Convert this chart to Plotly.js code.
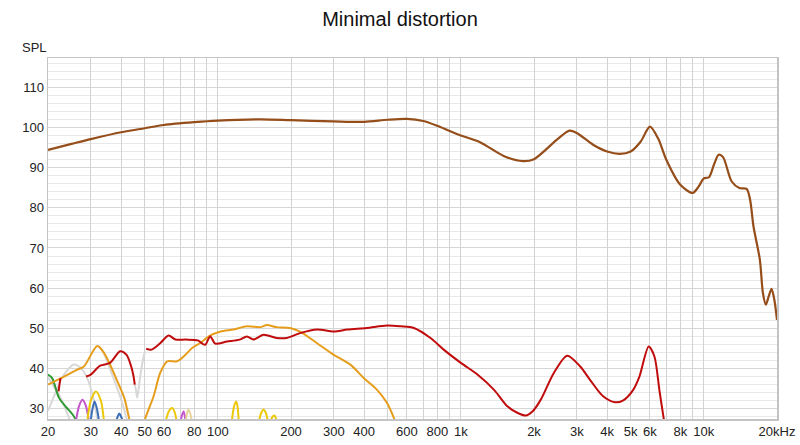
<!DOCTYPE html>
<html>
<head>
<meta charset="utf-8">
<script src="https://cdn.plot.ly/plotly-3.0.1.min.js"></script>
<style>
  html, body { margin: 0; padding: 0; background: #fff; }
  #chart { width: 800px; height: 445px; }
</style>
</head>
<body>
<div id="chart"></div>
<script>
// fundamental
const fundFreq = [20, 25, 30, 40, 50, 60, 80, 100, 150, 200, 300, 400, 500, 600, 700, 800, 900, 1000, 1200, 1500, 1800, 2000, 2500, 2800, 3000, 3500, 4000, 4500, 5000, 5500, 6000, 6500, 7000, 8000, 9000, 9500, 10000, 10500, 11000, 11500, 12000, 13000, 14000, 15000, 15500, 16000, 17000, 17500, 18000, 18500, 19000, 19500, 20000];
const fundSpl = [94.4, 95.9, 97.1, 98.8, 99.8, 100.6, 101.3, 101.7, 102.0, 101.8, 101.5, 101.4, 101.9, 102.1, 101.6, 100.4, 99.1, 98.0, 96.3, 92.9, 91.6, 92.1, 97.1, 99.2, 98.6, 95.7, 94.0, 93.4, 94.0, 96.5, 100.2, 97.1, 92.0, 85.7, 83.7, 85.2, 87.3, 87.6, 90.7, 93.2, 92.6, 86.6, 84.9, 84.7, 82.0, 75.4, 67.1, 58.8, 55.9, 58.0, 59.8, 57.1, 52.1];

// 2nd harmonic (red), null = gap
const h2Freq = [22.1, 22.3, 22.5, 25, 28.7, 30, 32.8, 36.0, 39.6, 42.1, 44.0, 45.0, 45.5, 48, 50.7, 53.4, 57.9, 62.7, 67, 74, 82.7, 88.5, 93, 97.6, 109, 123, 131.6, 140, 154, 174.6, 192, 218, 256, 300, 341, 410, 497, 566, 641, 750, 850, 1000, 1170, 1370, 1554, 1707, 1850, 1970, 2130, 2414, 2740, 3100, 3400, 3850, 4310, 4660, 5120, 5430, 5930, 6260, 6560, 6830, 7000];
const h2Spl = [34.3, 36.0, 37.6, null, 38.0, 38.5, 40.7, 41.4, 44.3, 43.4, 40.5, 38.0, 36.0, null, 44.9, 44.7, 46.3, 48.2, 47.2, 47.2, 47.0, 45.9, 48.0, 46.2, 46.7, 47.2, 48.0, 47.2, 48.4, 47.6, 47.6, 48.8, 49.7, 49.2, 49.7, 50.1, 50.7, 50.5, 50.1, 47.6, 44.7, 41.4, 38.5, 34.7, 30.6, 29.0, 28.3, 29.3, 32.2, 38.9, 43.2, 40.5, 37.2, 33.1, 31.6, 32.1, 34.7, 38.0, 45.5, 43.0, 34.7, 27.7, 24.0];

// 3rd harmonic (orange)
const h3Freq = [20, 23.3, 26.4, 28.1, 31.9, 34.0, 36.3, 38.6, 41.2, 43.2, 44, 47, 49.5, 50.2, 54.4, 57.9, 61.9, 67.8, 72.3, 78.4, 84.4, 91.8, 102.6, 116, 131.6, 149.6, 159, 174.6, 197.8, 218, 256, 300, 352, 399, 452, 497, 530, 550];
const h3Spl = [36.0, 38.0, 39.7, 40.5, 45.6, 43.9, 40.5, 36.8, 32.7, 27.5, 26.0, null, 26.0, 27.5, 33.1, 38.9, 41.8, 41.8, 43.0, 45.1, 46.3, 48.0, 49.2, 49.7, 50.5, 50.3, 50.8, 50.3, 50.1, 49.2, 46.3, 43.4, 40.9, 37.6, 34.7, 31.4, 27.7, 25.0];

// gray harmonic, separate lobes
const grayFreq = [20, 21.5, 23, 25.6, 27.3, 29.0, 30.5, 31.5, 32.3, 32.6,
  20.01, 21, 22.4, 23.5, 24.5, 25.2, 25.3,
  32.2, 33.5, 36.3, 39.8, 41.5, 42.5, 42.7,
  45.3, 46.0, 46.6, 47.9, 49.5, 50.2];
const graySpl = [29.5, 34.0, 38.0, 41.0, 40.1, 37.6, 33.5, 29.3, 26.0, null,
  37.8, 35.8, 33.0, 30.2, 27.5, 26.0, null,
  45.7, 44.5, 39.3, 32.7, 29.0, 26.5, null,
  36.5, 34.7, 32.7, 38.0, 43.0, 44.3];

const greenFreq = [20, 20.8, 22.2, 23.6, 25.3, 26.2];
const greenSpl = [38.5, 37.6, 32.7, 30.6, 28.5, 27.0];

const purpleFreq = [26.0, 26.8, 27.7, 28.7, 29.5, 29.6, 70, 71.3, 72.3, 73.2, 74];
const purpleSpl = [26.5, 30.5, 32.2, 30.5, 26.5, null, 26.5, 28.5, 29.3, 28.0, 26.0];

const blueFreq = [29.9, 30.5, 31.1, 31.8, 32.5, 33, 38, 38.7, 39.3, 40, 40.8];
const blueSpl = [26.5, 30.0, 31.8, 30.0, 26.5, null, 26.5, 28.0, 28.8, 28.0, 26.5];

const yellowFreq = [28.9, 30, 31.5, 33, 34.1, 35, 60.8, 62.8, 64.7, 66.3, 67.8, 70, 114, 116.5, 119, 120.5, 122, 130, 147, 151, 154, 157.5, 161, 162, 164, 167, 171, 173, 175];
const yellowSpl = [26.0, 32.0, 34.3, 32.0, 26.0, null, 26.5, 29.3, 30.2, 29.3, 26.5, null, 26.5, 30.5, 31.8, 30.5, 26.5, null, 26.5, 29.0, 29.8, 29.0, 26.5, null, 26.5, 27.8, 28.3, 27.8, 26.5];

const paleFreq = [73.5, 74.8, 75.6, 76.8, 78.4];
const paleSpl = [26.5, 29.0, 29.8, 29.0, 26.5];

// grid and labels
const gridFreqs = [20, 30, 40, 50, 60, 70, 80, 90, 100, 200, 300, 400, 500, 600, 700, 800, 900, 1000, 2000, 3000, 4000, 5000, 6000, 7000, 8000, 9000, 10000, 20000];
const gridLabels = ["20", "30", "40", "50", "60", "", "80", "", "100", "200", "300", "400", "", "600", "", "800", "", "1k", "2k", "3k", "4k", "5k", "6k", "", "8k", "", "10k", "20kHz"];
const decadeFreqs = [100, 1000, 10000];

function lineTrace(x, y, color, width) {
  return {
    type: "scatter",
    mode: "lines",
    x,
    y,
    line: { color, width: width || 2, shape: "spline", smoothing: 0.8 },
    connectgaps: false,
    hoverinfo: "skip",
  };
}

const data = [
  lineTrace(grayFreq, graySpl, "#d8d8d8"),
  lineTrace(greenFreq, greenSpl, "#2f9a34"),
  lineTrace(purpleFreq, purpleSpl, "#c455cc"),
  lineTrace(blueFreq, blueSpl, "#3d6eb8"),
  lineTrace(paleFreq, paleSpl, "#e4d49a"),
  lineTrace(yellowFreq, yellowSpl, "#ecc80c"),
  lineTrace(h3Freq, h3Spl, "#e69d1c"),
  lineTrace(h2Freq, h2Spl, "#c00c0c"),
  lineTrace(fundFreq, fundSpl, "#954d1a", 2.2),
];

const fontFamily = "Liberation Sans, Arial, Helvetica, sans-serif";

const layout = {
  width: 800,
  height: 445,
  margin: { l: 48, r: 23, t: 58, b: 26 },
  paper_bgcolor: "#ffffff",
  plot_bgcolor: "#ffffff",
  showlegend: false,
  font: { family: fontFamily, color: "#222", size: 13 },
  title: {
    text: "Minimal distortion",
    font: { family: fontFamily, size: 20, color: "#111" },
    x: 0.5,
    xanchor: "center",
    y: 0.957,
    yanchor: "middle",
  },
  xaxis: {
    type: "log",
    range: [Math.log10(20), Math.log10(20000)],
    tickmode: "array",
    tickvals: gridFreqs,
    ticktext: gridLabels,
    showgrid: true,
    gridcolor: "#d2d2d2",
    gridwidth: 1,
    ticks: "",
    showline: true,
    mirror: true,
    linecolor: "#c4c4c4",
    linewidth: 1.5,
    zeroline: false,
    tickfont: { size: 13, color: "#222" },
  },
  yaxis: {
    range: [27.44, 117.27],
    tickmode: "linear",
    tick0: 0,
    dtick: 10,
    showgrid: true,
    gridcolor: "#d6d6d6",
    ticks: "",
    minor: { dtick: 2, tick0: 0, showgrid: true, gridcolor: "#e8e8e8", ticks: "" },
    showline: true,
    mirror: true,
    linecolor: "#c4c4c4",
    linewidth: 1.5,
    zeroline: false,
    tickfont: { size: 13, color: "#222" },
  },
  shapes: decadeFreqs.map((f) => ({
    type: "line",
    xref: "x",
    yref: "paper",
    x0: Math.log10(f),
    x1: Math.log10(f),
    y0: 0,
    y1: 1,
    layer: "below",
    line: { color: "#a8a8a8", width: 1 },
  })),
  annotations: [
    {
      text: "SPL",
      xref: "paper",
      yref: "paper",
      x: -0.018,
      y: 1.03,
      xanchor: "center",
      yanchor: "middle",
      showarrow: false,
      font: { family: fontFamily, size: 13, color: "#222" },
    },
  ],
};

Plotly.newPlot("chart", data, layout, { displayModeBar: false, staticPlot: true });
</script>
</body>
</html>
